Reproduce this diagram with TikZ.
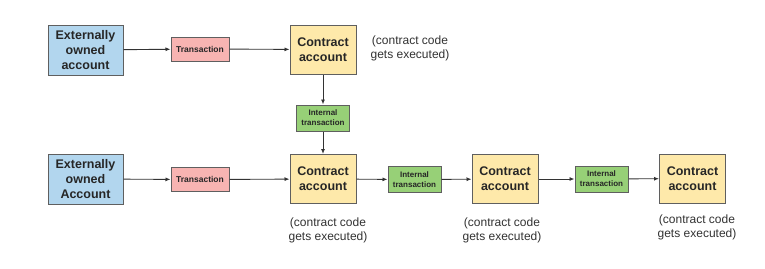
\documentclass[tikz,border=0pt]{standalone}
\usepackage{fontspec}
\setmainfont{Liberation Sans}
\usetikzlibrary{arrows.meta}
\definecolor{eoablue}{RGB}{178,214,238}
\definecolor{txpink}{RGB}{248,180,178}
\definecolor{cayellow}{RGB}{254,233,170}
\definecolor{itgreen}{RGB}{151,208,119}
\definecolor{bordergray}{RGB}{95,95,95}
\definecolor{notegray}{RGB}{50,50,50}
\tikzset{
  bigbox/.style={draw=bordergray, line width=1pt, inner sep=0pt, align=center,
    font=\fontsize{12.5}{15}\selectfont\bfseries, text=black!85},
  eoabox/.style={bigbox, fill=eoablue, minimum width=75pt, minimum height=50pt},
  cabox/.style={bigbox, fill=cayellow, minimum width=66pt, minimum height=49pt},
  txbox/.style={draw=bordergray, line width=1pt, inner sep=0pt, fill=txpink,
    minimum width=58pt, minimum height=24pt, font=\fontsize{8.5}{10}\selectfont\bfseries, text=black!85},
  itbox/.style={draw=bordergray, line width=1pt, inner sep=0pt, fill=itgreen, align=center,
    minimum width=53pt, minimum height=26pt, font=\fontsize{8}{10}\selectfont\bfseries, text=black!85},
  note/.style={align=center, inner sep=0pt, text=notegray, font=\fontsize{12}{14}\selectfont},
  conn/.style={draw=black!80, line width=0.9pt, -{Latex[length=5pt,width=4pt]}}
}
\begin{document}
\begin{tikzpicture}[x=1pt,y=-1pt]
\useasboundingbox (0,0) rectangle (765,268);
% top row
\node[eoabox] (eoa1) at (85.5,50) {Externally\\owned\\account};
\node[txbox] (tx1) at (200,49) {Transaction};
\node[cabox] (ca1) at (323,49.5) {Contract\\account};
\node[note] (n1) at (410,48) {(contract code\\gets executed)};
\node[itbox] (it1) at (323,118) {Internal\\transaction};
% bottom row
\node[eoabox] (eoa2) at (85.5,179) {Externally\\owned\\Account};
\node[txbox] (tx2) at (200,179.5) {Transaction};
\node[cabox] (ca2) at (323,179) {Contract\\account};
\node[note] (n2) at (328,230) {(contract code\\gets executed)};
\node[itbox] (it2) at (414.5,179.5) {Internal\\transaction};
\node[cabox] (ca3) at (505,179) {Contract\\account};
\node[note] (n3) at (502,230) {(contract code\\gets executed)};
\node[itbox] (it3) at (601.5,179) {Internal\\transaction};
\node[cabox] (ca4) at (692.5,178.5) {Contract\\account};
\node[note] (n4) at (697,227) {(contract code\\gets executed)};
% connectors
\draw[conn] (eoa1) -- (tx1);
\draw[conn] (tx1) -- (ca1);
\draw[conn] (ca1) -- (it1);
\draw[conn] (it1) -- (ca2);
\draw[conn] (eoa2) -- (tx2);
\draw[conn] (tx2) -- (ca2);
\draw[conn] (ca2) -- (it2);
\draw[conn] (it2) -- (ca3);
\draw[conn] (ca3) -- (it3);
\draw[conn] (it3) -- (ca4);
\end{tikzpicture}
\end{document}
